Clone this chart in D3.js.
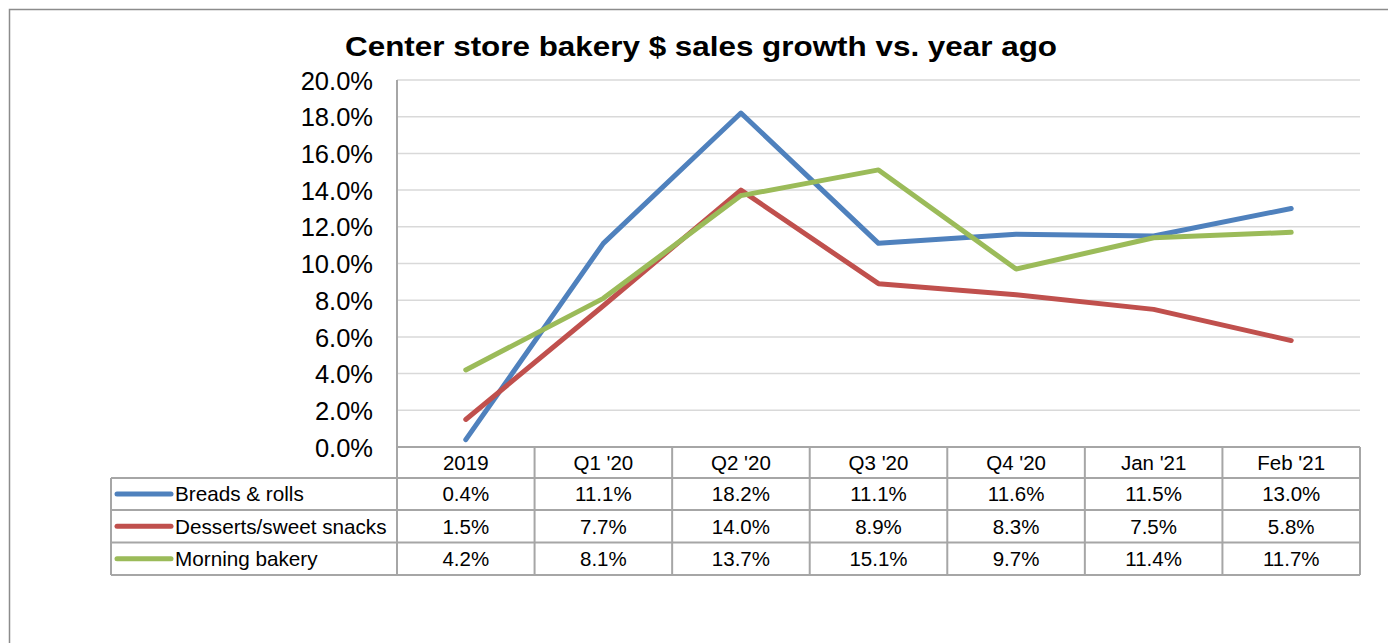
<!DOCTYPE html>
<html><head><meta charset="utf-8">
<script src="https://cdn.jsdelivr.net/npm/d3@7"></script>
<style>body{margin:0;background:#fff}svg{display:block;font-family:Arial,"Liberation Sans",sans-serif}</style>
</head><body><svg id="c" width="1388" height="643"></svg>
<script>
const categories = ["2019","Q1 '20","Q2 '20","Q3 '20","Q4 '20","Jan '21","Feb '21"];
const seriesNames = ["Breads & rolls","Desserts/sweet snacks","Morning bakery"];
const breads = [0.4,11.1,18.2,11.1,11.6,11.5,13.0];
const desserts = [1.5,7.7,14.0,8.9,8.3,7.5,5.8];
const morning = [4.2,8.1,13.7,15.1,9.7,11.4,11.7];
const colors = ["#4F81BD","#C0504D","#9BBB59"];
const yTicks = [0,2,4,6,8,10,12,14,16,18,20];
const title = "Center store bakery $ sales growth vs. year ago";

const series = [breads, desserts, morning];
const svg = d3.select("#c");
const L = 397, R = 1360, T = 80, B = 447;
const legendL = 111;
const rowH = [B, 478, 510, 542.5, 575];

svg.append("rect").attr("x",9.5).attr("y",9.5).attr("width",1500).attr("height",800)
  .attr("fill","none").attr("stroke","#8c8c8c").attr("stroke-width",1.5);

svg.append("text").attr("x",345).attr("y",56)
  .attr("font-size",28.5).attr("font-weight","bold").attr("fill","#000")
  .attr("textLength",712).attr("lengthAdjust","spacingAndGlyphs").text(title);

const x = d3.scaleBand().domain(categories).range([L,R]).padding(0);
const cx = c => x(c) + x.bandwidth()/2;
const y = d3.scaleLinear().domain([0,20]).range([B,T]);

// gridlines
svg.append("g").selectAll("line").data(yTicks.filter(t=>t>0)).join("line")
  .attr("x1",L).attr("x2",R).attr("y1",d=>y(d)).attr("y2",d=>y(d))
  .attr("stroke","#d9d9d9").attr("stroke-width",1.5);

// y axis labels
const yAxis = d3.axisLeft(y).tickValues(yTicks).tickSize(0).tickPadding(24)
  .tickFormat(d=>d3.format(".1f")(d)+"%");
const ya = svg.append("g").attr("transform",`translate(${L},0)`).call(yAxis);
ya.select(".domain").remove();
ya.selectAll("text").attr("font-size",25.5).attr("fill","#000").attr("font-family",'Arial,"Liberation Sans",sans-serif').attr("dy","0.36em");

// lines
const line = d3.line().x((d,i)=>cx(categories[i])).y(d=>y(d));
svg.append("g").selectAll("path").data(series).join("path")
  .attr("d",line).attr("fill","none").attr("stroke",(d,i)=>colors[i])
  .attr("stroke-width",5).attr("stroke-linejoin","round").attr("stroke-linecap","round");

// table
const tg = svg.append("g");
const gs = "#a6a6a6";
tg.append("line").attr("x1",L).attr("x2",R).attr("y1",B).attr("y2",B).attr("stroke",gs).attr("stroke-width",2);
[1,2,3,4].forEach(k=>{
  tg.append("line").attr("x1",legendL).attr("x2",R).attr("y1",rowH[k]).attr("y2",rowH[k]).attr("stroke",gs).attr("stroke-width",2);
});
tg.append("line").attr("x1",L).attr("x2",L).attr("y1",T).attr("y2",rowH[4]).attr("stroke",gs).attr("stroke-width",2);
tg.append("line").attr("x1",legendL).attr("x2",legendL).attr("y1",rowH[1]).attr("y2",rowH[4]).attr("stroke",gs).attr("stroke-width",2);
tg.selectAll("line.v").data(categories).join("line").attr("class","v")
  .attr("x1",d=>x(d)+x.bandwidth()).attr("x2",d=>x(d)+x.bandwidth())
  .attr("y1",B).attr("y2",rowH[4]).attr("stroke",gs).attr("stroke-width",2);

tg.selectAll("text.h").data(categories).join("text").attr("class","h")
  .attr("x",d=>cx(d)).attr("y",(rowH[0]+rowH[1])/2).attr("dy","0.36em")
  .attr("text-anchor","middle").attr("font-size",20.5).attr("fill","#000").text(d=>d);

series.forEach((s,i)=>{
  const yc = (rowH[i+1]+rowH[i+2])/2;
  tg.append("line").attr("x1",117).attr("x2",171).attr("y1",yc).attr("y2",yc)
    .attr("stroke",colors[i]).attr("stroke-width",5).attr("stroke-linecap","round");
  tg.append("text").attr("x",175).attr("y",yc).attr("dy","0.36em").attr("font-size",20.7)
    .attr("fill","#000").text(seriesNames[i]);
  tg.selectAll("text.r"+i).data(s).join("text").attr("class","r"+i)
    .attr("x",(d,j)=>cx(categories[j])).attr("y",yc).attr("dy","0.36em")
    .attr("text-anchor","middle").attr("font-size",20.5).attr("fill","#000")
    .text(d=>d3.format(".1f")(d)+"%");
});
</script></body></html>
